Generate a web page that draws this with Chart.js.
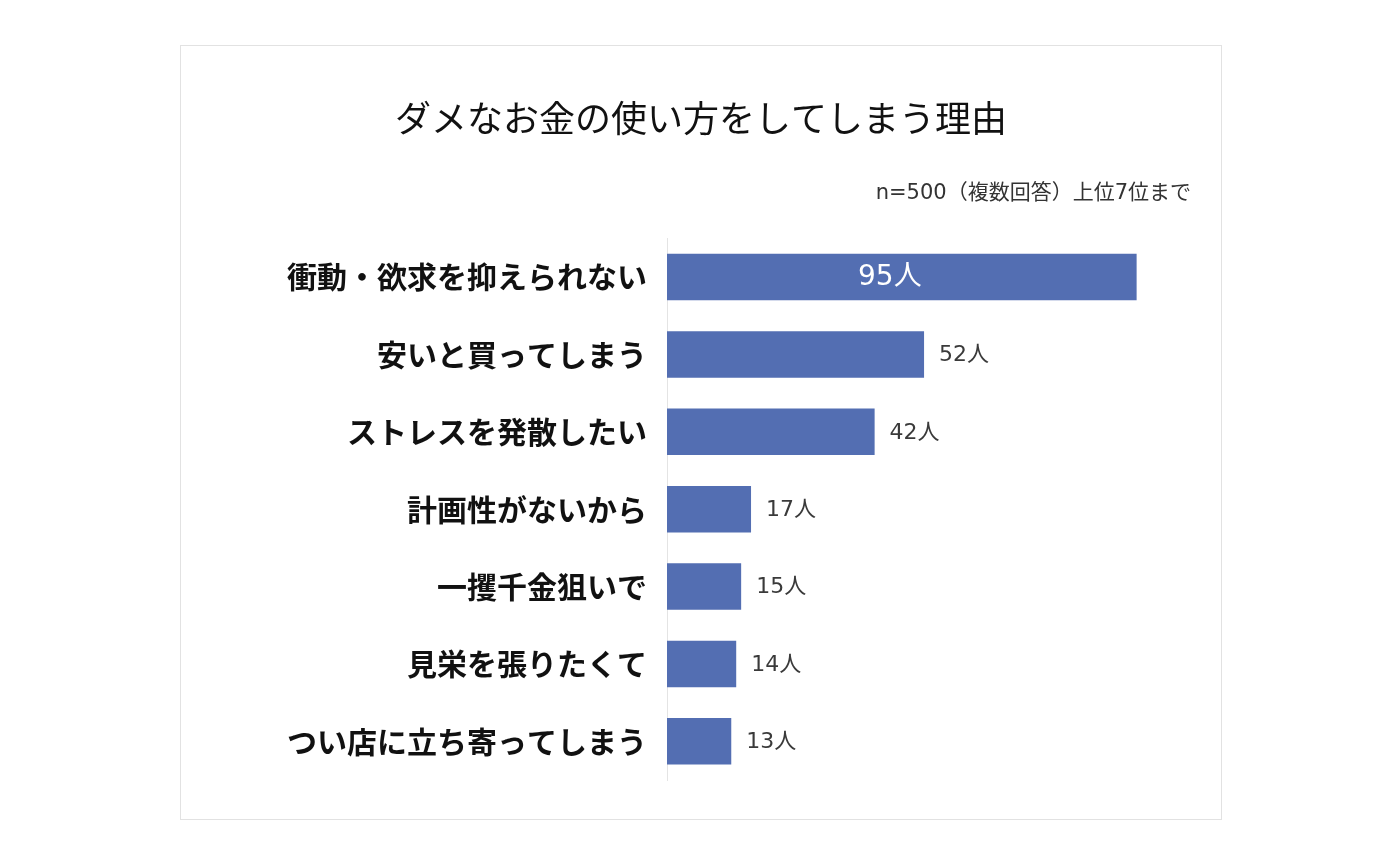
<!DOCTYPE html>
<html lang="ja">
<head>
<meta charset="utf-8">
<title>ダメなお金の使い方をしてしまう理由</title>
<script src="https://cdn.jsdelivr.net/npm/chart.js@4.4.1/dist/chart.umd.min.js"></script>
<style>
  html, body { margin: 0; padding: 0; background: #fff; }
  #frame {
    position: absolute;
    left: 180px;
    top: 45px;
    width: 1040px;
    height: 773px;
    border: 1px solid #e2e2e2;
    box-sizing: content-box;
  }
  #chart { display: block; }
</style>
</head>
<body>
<div id="frame">
  <canvas id="chart" width="1040" height="773"></canvas>
</div>
<script>
  'use strict';

  // Reasons (top 7), multiple answers, n=500
  const reasons = [
    '衝動・欲求を抑えられない',
    '安いと買ってしまう',
    'ストレスを発散したい',
    '計画性がないから',
    '一攫千金狙いで',
    '見栄を張りたくて',
    'つい店に立ち寄ってしまう'
  ];
  const people = [95, 52, 42, 17, 15, 14, 13];
  const unitLabel = '人';

  const titleText = 'ダメなお金の使い方をしてしまう理由';
  const noteText = 'n=500（複数回答）上位7位まで';

  const fontFamily = '"Noto Sans CJK JP", "Noto Sans", sans-serif';
  // wider latin digits, japanese falls back to Noto CJK
  const numFamily = '"DejaVu Sans", "Noto Sans CJK JP", sans-serif';
  const barColor = '#536EB2';

  // Draws "NN人" next to each bar (the largest one inside, in white)
  const valueLabels = {
    id: 'valueLabels',
    afterDatasetsDraw(chart) {
      const ctx = chart.ctx;
      const meta = chart.getDatasetMeta(0);
      const data = chart.data.datasets[0].data;
      const maxValue = Math.max(...data);
      ctx.save();
      ctx.textBaseline = 'middle';
      meta.data.forEach(function (bar, i) {
        const text = data[i] + unitLabel;
        if (data[i] === maxValue) {
          ctx.font = '400 28px ' + numFamily;
          ctx.fillStyle = '#ffffff';
          ctx.textAlign = 'center';
          ctx.fillText(text, (bar.base + bar.x) / 2 - 12, bar.y + 1);
        } else {
          ctx.font = '400 22px ' + numFamily;
          ctx.fillStyle = '#3a3a3a';
          ctx.textAlign = 'left';
          ctx.fillText(text, bar.x + 15, bar.y + 1);
        }
      });
      ctx.restore();
    }
  };

  new Chart(document.getElementById('chart'), {
    type: 'bar',
    data: {
      labels: reasons,
      datasets: [{
        data: people,
        backgroundColor: barColor,
        borderWidth: 0,
        categoryPercentage: 1.0,
        barPercentage: 0.6
      }]
    },
    options: {
      indexAxis: 'y',
      responsive: false,
      animation: false,
      events: [],
      layout: {
        padding: { left: 30, right: 30, top: 0, bottom: 39 }
      },
      plugins: {
        legend: { display: false },
        tooltip: { enabled: false },
        title: {
          display: true,
          text: titleText,
          color: '#111111',
          font: { family: fontFamily, size: 36, weight: '400', lineHeight: 1.2 },
          padding: { top: 51, bottom: 30 }
        },
        subtitle: {
          display: true,
          text: noteText,
          align: 'end',
          color: '#333333',
          font: { family: numFamily, size: 21, weight: '400', lineHeight: 1.2 },
          padding: { top: 11, bottom: 32 }
        }
      },
      scales: {
        x: {
          display: false,
          min: 0,
          max: 106
        },
        y: {
          afterFit: function (scale) { scale.width = 456; },
          grid: { display: false, drawTicks: false },
          border: { display: true, color: '#e4e4e4', width: 1 },
          ticks: {
            padding: 20,
            color: '#111111',
            font: { family: fontFamily, size: 30, weight: 'bold' }
          }
        }
      }
    },
    plugins: [valueLabels]
  });
</script>
</body>
</html>
